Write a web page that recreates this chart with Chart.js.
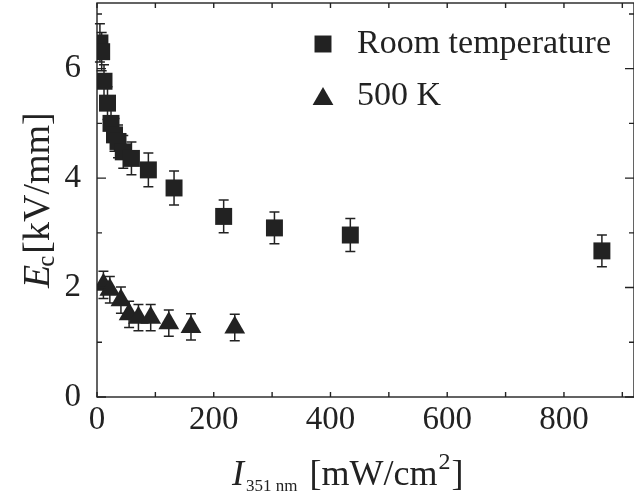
<!DOCTYPE html>
<html>
<head>
<meta charset="utf-8">
<script src="https://cdn.jsdelivr.net/npm/chart.js@4.4.1/dist/chart.umd.min.js"></script>
<style>
  html, body { margin: 0; padding: 0; background: #fff; }
  #wrap { width: 634px; height: 498px; }
</style>
</head>
<body>
<div id="wrap"><canvas id="ecChart" width="634" height="498"></canvas></div>
<script>
// Coercive field E_c against 351 nm light intensity
const roomI   = [5, 8, 12, 18, 24, 30, 36, 45, 59, 88, 132, 217, 304, 434, 865];
const roomE   = [6.47, 6.31, 5.77, 5.37, 5.00, 4.79, 4.67, 4.48, 4.36, 4.15, 3.82, 3.30, 3.09, 2.96, 2.67];
const roomErr = [0.35, 0.35, 0.30, 0.30, 0.30, 0.30, 0.30, 0.30, 0.30, 0.31, 0.31, 0.30, 0.29, 0.30, 0.29];

const hotI   = [11, 22, 41, 55, 71, 92, 123, 161, 236];
const hotE   = [2.05, 1.96, 1.77, 1.51, 1.45, 1.45, 1.35, 1.28, 1.27];
const hotErr = [0.25, 0.24, 0.24, 0.24, 0.24, 0.24, 0.24, 0.24, 0.24];

const xTickLabels = ['0', '200', '400', '600', '800'];
const yTickLabels = ['0', '2', '4', '6'];

const INK = '#222';
const SERIF = '"Liberation Serif", "DejaVu Serif", serif';

function toPoints(xs, ys, errs) {
  return xs.map((x, i) => ({ x: x, y: ys[i], err: errs[i] }));
}

// vertical error bars with caps, drawn under the markers
const errorBars = {
  id: 'errorBars',
  beforeDatasetsDraw(chart) {
    const ctx = chart.ctx;
    const xs = chart.scales.x, ys = chart.scales.y;
    ctx.save();
    ctx.strokeStyle = INK;
    ctx.lineWidth = 1.5;
    chart.data.datasets.forEach(ds => {
      ds.data.forEach(p => {
        const px = xs.getPixelForValue(p.x);
        const top = ys.getPixelForValue(p.y + p.err);
        const bot = ys.getPixelForValue(p.y - p.err);
        const cap = 5;
        ctx.beginPath();
        ctx.moveTo(px, top); ctx.lineTo(px, bot);
        ctx.moveTo(px - cap, top); ctx.lineTo(px + cap, top);
        ctx.moveTo(px - cap, bot); ctx.lineTo(px + cap, bot);
        ctx.stroke();
      });
    });
    ctx.restore();
  }
};

// closed frame with inward ticks on all four sides
const frame = {
  id: 'frame',
  afterDatasetsDraw(chart) {
    const ctx = chart.ctx;
    const a = chart.chartArea;
    const xs = chart.scales.x, ys = chart.scales.y;
    ctx.save();
    ctx.strokeStyle = INK;
    ctx.lineWidth = 1.4;
    ctx.strokeRect(a.left, a.top, a.right - a.left, a.bottom - a.top);
    ctx.beginPath();
    xs.ticks.forEach(t => {
      const px = xs.getPixelForValue(t.value);
      ctx.moveTo(px, a.bottom); ctx.lineTo(px, a.bottom - 5);
      ctx.moveTo(px, a.top); ctx.lineTo(px, a.top + 5);
    });
    ys.ticks.forEach(t => {
      const py = ys.getPixelForValue(t.value);
      const len = t.value % 2 === 0 ? 9 : 5;
      ctx.moveTo(a.left, py); ctx.lineTo(a.left + len, py);
      ctx.moveTo(a.right, py); ctx.lineTo(a.right - len, py);
    });
    ctx.stroke();
    ctx.restore();
  }
};

// legend in the upper right and the axis titles with sub/superscripts
const annotations = {
  id: 'annotations',
  afterDraw(chart) {
    const ctx = chart.ctx;
    const a = chart.chartArea;
    const draw = Chart.helpers.drawPoint;
    ctx.save();
    ctx.fillStyle = INK;

    chart.data.datasets.forEach((ds, i) => {
      const cy = a.top + 41 + i * 55;
      draw(ctx, { pointStyle: ds.pointStyle, radius: 12, rotation: 0, borderWidth: 0 }, a.left + 226, cy);
      ctx.font = '34px ' + SERIF;
      ctx.textBaseline = 'alphabetic';
      ctx.textAlign = 'left';
      ctx.fillText(ds.label, a.left + 260, cy + 9 + i * -3);
    });

    // x title: I_351 nm [mW/cm^2]
    let x = 232;
    const base = 485;
    ctx.textAlign = 'left';
    ctx.font = 'italic 36px ' + SERIF;
    ctx.fillText('I', x, base);
    x += ctx.measureText('I').width + 2;
    ctx.font = '17px ' + SERIF;
    ctx.fillText('351 nm', x, base + 6);
    x += ctx.measureText('351 nm').width + 12;
    ctx.font = '36px ' + SERIF;
    ctx.fillText('[mW/cm', x, base);
    x += ctx.measureText('[mW/cm').width + 1;
    ctx.font = '24px ' + SERIF;
    ctx.fillText('2', x, base - 16);
    x += ctx.measureText('2').width + 1;
    ctx.font = '36px ' + SERIF;
    ctx.fillText(']', x, base);

    // y title: E_c [kV/mm], rotated
    ctx.translate(49, 288);
    ctx.rotate(-Math.PI / 2);
    let t = 0;
    ctx.font = 'italic 38px ' + SERIF;
    ctx.fillText('E', t, 0);
    t += ctx.measureText('E').width - 2;
    ctx.font = '25px ' + SERIF;
    ctx.fillText('c', t, 5);
    t += ctx.measureText('c').width + 2;
    ctx.font = '38px ' + SERIF;
    ctx.fillText('[kV/mm]', t, 0);
    ctx.restore();
  }
};

new Chart(document.getElementById('ecChart').getContext('2d'), {
  type: 'scatter',
  data: {
    datasets: [
      {
        label: 'Room temperature',
        data: toPoints(roomI, roomE, roomErr),
        pointStyle: 'rect',
        pointRadius: 12,
        pointHoverRadius: 12,
        backgroundColor: INK,
        borderWidth: 0,
        clip: 0
      },
      {
        label: '500 K',
        data: toPoints(hotI, hotE, hotErr),
        pointStyle: 'triangle',
        pointRadius: 12,
        pointHoverRadius: 12,
        backgroundColor: INK,
        borderWidth: 0,
        clip: 0
      }
    ]
  },
  options: {
    responsive: false,
    devicePixelRatio: 1,
    animation: false,
    layout: { autoPadding: false, padding: { top: 3, right: 0, left: 0, bottom: 0 } },
    plugins: { legend: { display: false }, tooltip: { enabled: false } },
    scales: {
      x: {
        type: 'linear',
        min: 0,
        max: 920,
        grid: { display: false, drawTicks: false },
        border: { display: false },
        ticks: {
          stepSize: 100,
          includeBounds: false,
          autoSkip: false,
          maxRotation: 0,
          padding: 4,
          color: INK,
          font: { family: SERIF, size: 33 },
          callback: v => xTickLabels.includes(String(v)) ? String(v) : ''
        },
        afterFit: s => { s.height = 101; s.paddingLeft = 0; s.paddingRight = 0; }
      },
      y: {
        type: 'linear',
        min: 0,
        max: 7.2,
        grid: { display: false, drawTicks: false },
        border: { display: false },
        ticks: {
          stepSize: 1,
          includeBounds: false,
          autoSkip: false,
          padding: 16,
          color: INK,
          font: { family: SERIF, size: 33 },
          callback: v => yTickLabels.includes(String(v)) ? String(v) : ''
        },
        afterFit: s => { s.width = 97; s.paddingTop = 0; s.paddingBottom = 0; }
      }
    }
  },
  plugins: [errorBars, frame, annotations]
});
</script>
</body>
</html>
